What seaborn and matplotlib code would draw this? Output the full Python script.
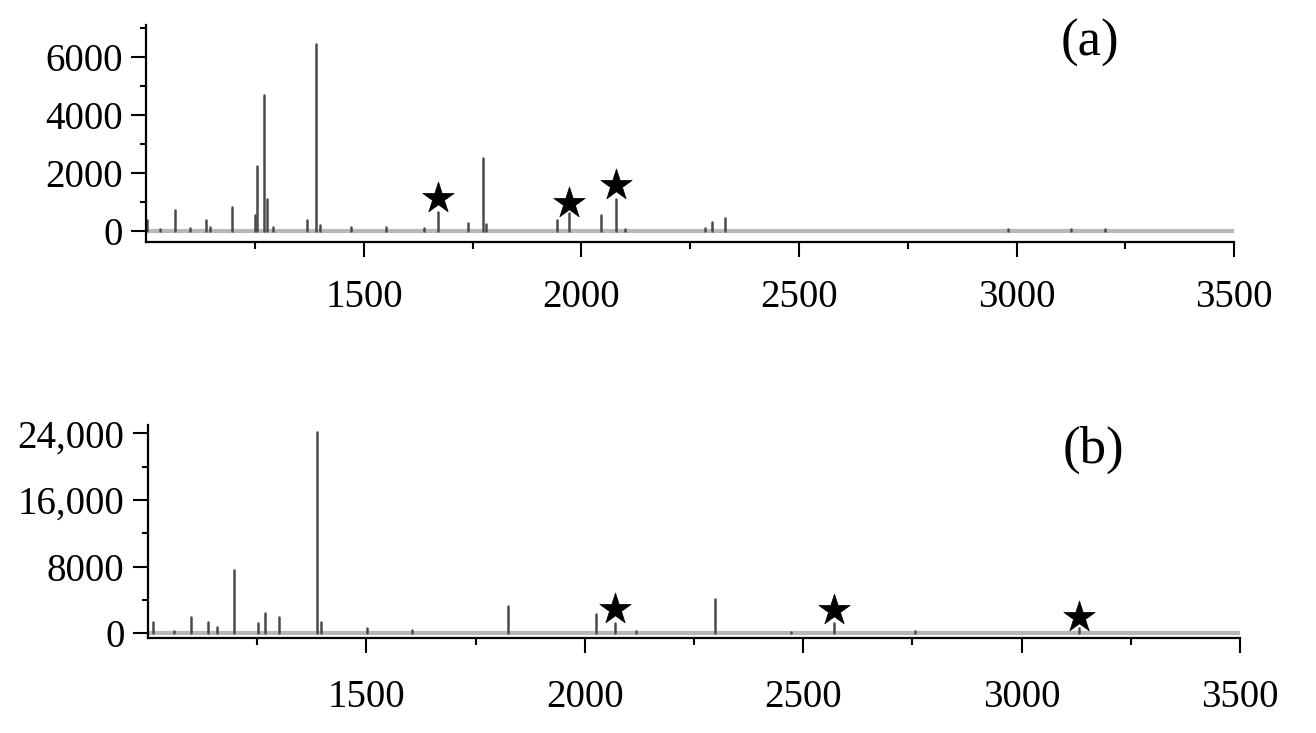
# Two stick mass spectra, (a) and (b), with starred peaks
import pandas as pd
import matplotlib
matplotlib.use('Agg')
import matplotlib.pyplot as plt
import seaborn as sns
from matplotlib.ticker import FixedLocator

# panel (a) peaks
mz_a = [1001, 1030, 1065, 1100, 1137, 1145, 1196, 1249, 1254, 1270, 1278, 1290,
        1370, 1390, 1400, 1471, 1550, 1637, 1671, 1738, 1773, 1780, 1943, 1971,
        2044, 2080, 2100, 2283, 2300, 2330, 2981, 3126, 3204]
int_a = [380, 80, 724, 100, 380, 150, 840, 550, 2250, 4700, 1100, 150,
         380, 6450, 200, 120, 120, 100, 667, 260, 2500, 250, 380, 610,
         550, 1090, 80, 100, 320, 440, 50, 60, 60]
star_mz_a = [1671, 1971, 2080]
star_int_a = [1130, 950, 1590]

# panel (b) peaks
mz_b = [1012, 1060, 1098, 1137, 1157, 1196, 1252, 1268, 1299, 1386, 1396, 1502,
        1605, 1823, 2025, 2070, 2117, 2298, 2472, 2571, 2756, 3132]
int_b = [1400, 300, 2000, 1400, 720, 7600, 1200, 2400, 2000, 24200, 1300, 600,
         360, 3280, 2280, 1280, 300, 4080, 200, 1200, 300, 680]
star_mz_b = [2070, 2571, 3132]
star_int_b = [2880, 2800, 2000]

x_major = [1500, 2000, 2500, 3000, 3500]
x_minor = [1250, 1750, 2250, 2750, 3250]
y_major_a = [0, 2000, 4000, 6000]
y_labels_a = ['0', '2000', '4000', '6000']
y_minor_a = [1000, 3000, 5000, 7000]
y_major_b = [0, 8000, 16000, 24000]
y_labels_b = ['0', '8000', '16,000', '24,000']
y_minor_b = [4000, 12000, 20000]

sns.set_style('ticks')
plt.rcParams['font.family'] = ['Liberation Serif', 'DejaVu Serif']


def sticks(mz, inten):
    rows = []
    for i, (m, h) in enumerate(zip(mz, inten)):
        rows.append({'peak': i, 'mz': m, 'intensity': 0})
        rows.append({'peak': i, 'mz': m, 'intensity': h})
    return pd.DataFrame(rows)


def draw_panel(ax, mz, inten, smz, sint, ylim, yticks, ylabels, yminor, xpad):
    ax.axhline(0, color='#b8b8b8', lw=3, zorder=1)
    sns.lineplot(data=sticks(mz, inten), x='mz', y='intensity', units='peak',
                 estimator=None, sort=False, color='#4a4a4a', lw=1.8, ax=ax)
    sns.scatterplot(x=smz, y=sint, marker='*', s=560, color='black',
                    edgecolor='black', linewidth=0.5, ax=ax, zorder=5)
    ax.set_xlim(1000, 3500)
    ax.set_ylim(*ylim)
    ax.xaxis.set_major_locator(FixedLocator(x_major))
    ax.xaxis.set_minor_locator(FixedLocator(x_minor))
    ax.yaxis.set_major_locator(FixedLocator(yticks))
    ax.yaxis.set_minor_locator(FixedLocator(yminor))
    ax.set_yticklabels(ylabels)
    ax.set_xticklabels([str(v) for v in x_major])
    ax.tick_params(axis='both', which='both', color='black', labelcolor='black')
    ax.tick_params(axis='x', which='major', length=11, width=1.5, pad=xpad, labelsize=28)
    ax.tick_params(axis='x', which='minor', length=5, width=1.5)
    ax.tick_params(axis='y', which='major', length=11, width=1.5, pad=6, labelsize=28)
    ax.tick_params(axis='y', which='minor', length=4.5, width=1.5)
    for s in ['top', 'right']:
        ax.spines[s].set_visible(False)
    for s in ['left', 'bottom']:
        ax.spines[s].set_linewidth(1.6)
        ax.spines[s].set_color('black')
    ax.set_xlabel('')
    ax.set_ylabel('')


fig = plt.figure(figsize=(13.16, 7.33), dpi=100)
ax1 = fig.add_axes([0.1113, 0.6699, 0.8264, 0.2960])
ax2 = fig.add_axes([0.1125, 0.1292, 0.8298, 0.2910])

draw_panel(ax1, mz_a, int_a, star_mz_a, star_int_a, (-380, 7100),
           y_major_a, y_labels_a, y_minor_a, 16)
draw_panel(ax2, mz_b, int_b, star_mz_b, star_int_b, (-600, 25000),
           y_major_b, y_labels_b, y_minor_b, 18)

fig.text(0.828, 0.941, '(a)', fontsize=38, ha='center', va='center', color='black')
fig.text(0.831, 0.386, '(b)', fontsize=38, ha='center', va='center', color='black')

fig.savefig('out.png', dpi=100)
